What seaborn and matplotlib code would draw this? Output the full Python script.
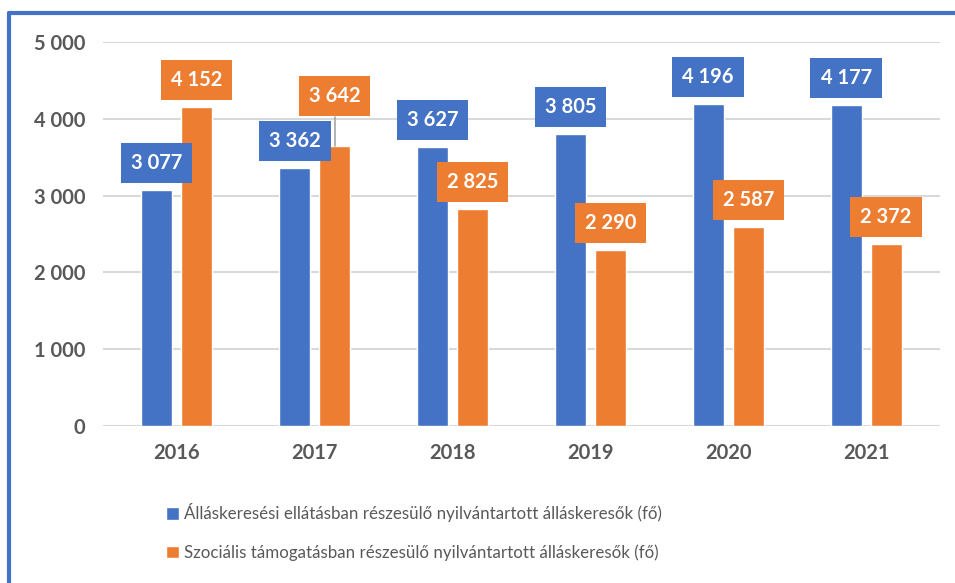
import matplotlib
matplotlib.use('Agg')
import matplotlib.pyplot as plt
from matplotlib.lines import Line2D
from matplotlib.ticker import FuncFormatter
import pandas as pd
import seaborn as sns

# Adatok
years = ['2016', '2017', '2018', '2019', '2020', '2021']
series_names = ['Álláskeresési ellátásban részesülő nyilvántartott álláskeresők (fő)',
                'Szociális támogatásban részesülő nyilvántartott álláskeresők (fő)']
ellatas = [3077, 3362, 3627, 3805, 4196, 4177]
tamogatas = [4152, 3642, 2825, 2290, 2587, 2372]

colors = ['#4472C4', '#ED7D31']
text_gray = '#595959'

df = pd.DataFrame({
    'ev': years * 2,
    'ertek': ellatas + tamogatas,
    'sorozat': [series_names[0]] * len(years) + [series_names[1]] * len(years),
})

sns.set_style('white')
plt.rcParams['font.family'] = ['Lato', 'DejaVu Sans']

fig = plt.figure(figsize=(9.55, 5.83), dpi=100)
ax = fig.add_axes([0.108, 0.269, 0.876, 0.659])

sns.barplot(data=df, x='ev', y='ertek', hue='sorozat', palette=colors,
            width=0.58, gap=0.22, ax=ax, saturation=1)

ax.set_ylim(0, 5000)
ax.set_yticks(range(0, 5001, 1000))
fmt = lambda v, p=None: f'{v:,.0f}'.replace(',', ' ')
ax.yaxis.set_major_formatter(FuncFormatter(fmt))
ax.grid(axis='y', color='#D9D9D9', linewidth=1.5)
ax.set_axisbelow(True)
sns.despine(ax=ax, left=True, bottom=True)
ax.tick_params(axis='both', length=0, labelsize=14.5, labelcolor=text_gray)
ax.tick_params(axis='y', pad=13)
ax.tick_params(axis='x', pad=12)
for lbl in ax.get_xticklabels() + ax.get_yticklabels():
    lbl.set_fontweight('bold')
ax.set_xlabel('')
ax.set_ylabel('')

# Adatcímkék (2017 szociális címke feljebb, vezetővonallal)
lift = {(1, 1): 36}
for si, cont in enumerate(ax.containers):
    for bi, bar in enumerate(cont):
        x = bar.get_x() + bar.get_width() / 2
        h = bar.get_height()
        off = lift.get((si, bi), 19.5)
        ax.annotate(fmt(h), xy=(x, h), xytext=(0, off), textcoords='offset points',
                    ha='center', va='center', fontsize=14.5, fontweight='bold', color='white',
                    bbox=dict(boxstyle='square,pad=0.5', fc=colors[si], ec='none'),
                    annotation_clip=False, zorder=5)
        if (si, bi) in lift:
            ax.plot([x, x], [h, h + 380], color='#A6A6A6', linewidth=1.2, zorder=1)

handles, labels = ax.get_legend_handles_labels()
ax.legend(handles, labels, loc='upper left', bbox_to_anchor=(0.158, 0.163),
          bbox_transform=fig.transFigure, frameon=False, fontsize=12.2,
          handlelength=0.75, handleheight=0.75, handletextpad=0.3,
          labelspacing=1.3, labelcolor=text_gray)

# Kék keret
fig.add_artist(Line2D([0.0094, 1.0], [0.978, 0.978], color='#4472C4', linewidth=3))
fig.add_artist(Line2D([0.0094, 0.0094], [0.0, 0.978], color='#4472C4', linewidth=3))

fig.savefig('out.png', dpi=100)
